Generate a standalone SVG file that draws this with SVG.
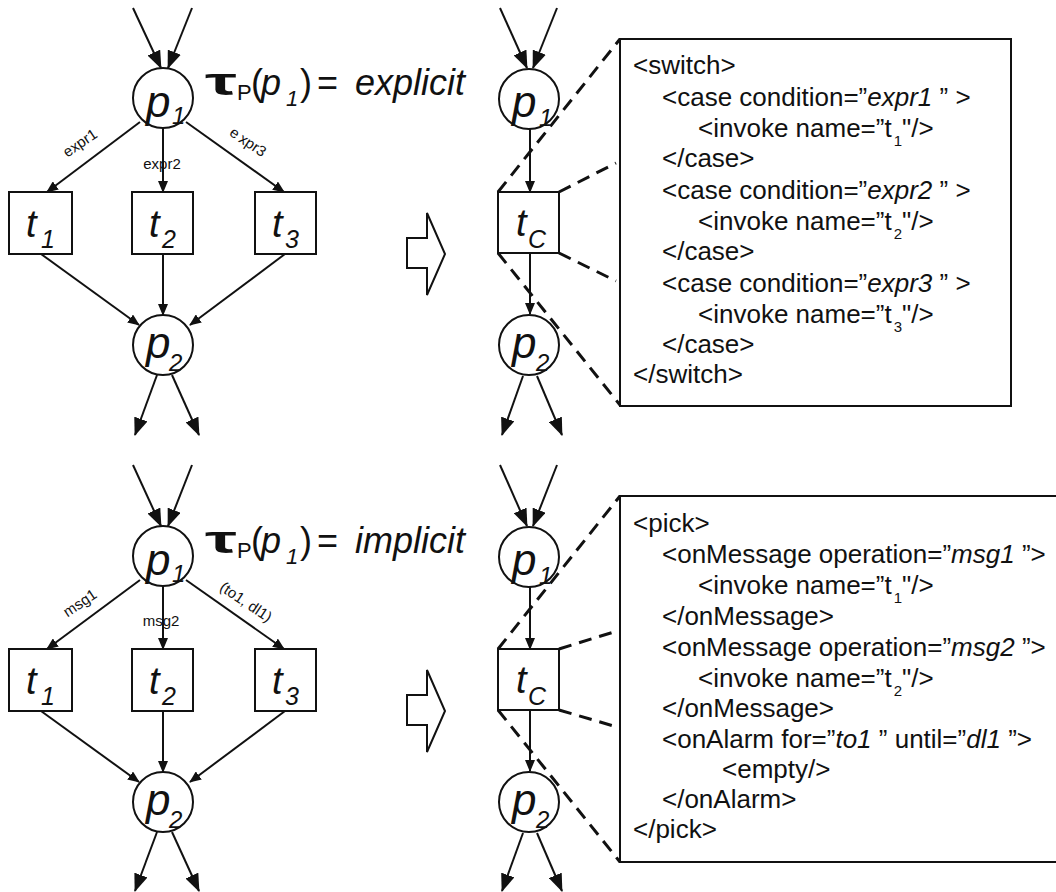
<svg xmlns="http://www.w3.org/2000/svg" width="1056" height="892" viewBox="0 0 1056 892">
<defs>
<style>
.ln{stroke:#111;stroke-width:2;fill:none}
.sm{marker-end:url(#sm)}
.bg{marker-end:url(#big)}
.nd{stroke:#111;stroke-width:2;fill:none}
.box{stroke:#111;stroke-width:2;fill:#fff}
.dash{stroke:#111;stroke-width:3;stroke-dasharray:13 8;fill:none}
.ha{stroke:#111;stroke-width:2;fill:#fff}
text{font-family:"Liberation Sans",Arial,sans-serif;fill:#111}
.it{font-style:italic}
.lbl{font-size:15px}
.x{font-size:26px}
.xs{font-size:15px}
.pl{font-size:44px;font-style:italic}
.ps{font-size:24px;font-style:italic}
.tl{font-size:38px;font-style:italic}
.ts{font-size:25px;font-style:italic}
.f{font-size:36px}
</style>
<marker id="big" markerWidth="18" markerHeight="14" refX="17" refY="7" orient="auto" markerUnits="userSpaceOnUse"><path d="M0,0 L18,7 L0,14 z" fill="#111"/></marker>
<marker id="sm" markerWidth="12" markerHeight="10" refX="11" refY="5" orient="auto" markerUnits="userSpaceOnUse"><path d="M0,0 L12,5 L0,10 z" fill="#111"/></marker>
</defs>
<rect width="1056" height="892" fill="#fff"/>

<!-- XML boxes -->
<g id="switchBox">
<rect x="620" y="39" width="391" height="367" class="box"/>
<text class="x" x="633" y="74">&lt;switch&gt;</text>
<text class="x" x="662" y="106">&lt;case condition=”<tspan class="it">expr1</tspan> ” &gt;</text>
<text class="x" x="698" y="137">&lt;invoke name=”t<tspan class="xs" dx="2" dy="9">1</tspan><tspan dy="-9">"/&gt;</tspan></text>
<text class="x" x="662" y="167">&lt;/case&gt;</text>
<text class="x" x="662" y="199">&lt;case condition=”<tspan class="it">expr2</tspan> ” &gt;</text>
<text class="x" x="698" y="230">&lt;invoke name=”t<tspan class="xs" dx="2" dy="9">2</tspan><tspan dy="-9">"/&gt;</tspan></text>
<text class="x" x="662" y="260">&lt;/case&gt;</text>
<text class="x" x="662" y="292">&lt;case condition=”<tspan class="it">expr3</tspan> ” &gt;</text>
<text class="x" x="698" y="323">&lt;invoke name=”t<tspan class="xs" dx="2" dy="9">3</tspan><tspan dy="-9">"/&gt;</tspan></text>
<text class="x" x="662" y="353">&lt;/case&gt;</text>
<text class="x" x="633" y="383">&lt;/switch&gt;</text>
</g>
<g id="pickBox">
<rect x="620" y="496" width="450" height="366" class="box"/>
<text class="x" x="633" y="532">&lt;pick&gt;</text>
<text class="x" x="662" y="563">&lt;onMessage operation=”<tspan class="it">msg1</tspan> ”&gt;</text>
<text class="x" x="698" y="594">&lt;invoke name=”t<tspan class="xs" dx="2" dy="9">1</tspan><tspan dy="-9">"/&gt;</tspan></text>
<text class="x" x="662" y="625">&lt;/onMessage&gt;</text>
<text class="x" x="662" y="656">&lt;onMessage operation=”<tspan class="it">msg2</tspan> ”&gt;</text>
<text class="x" x="698" y="687">&lt;invoke name=”t<tspan class="xs" dx="2" dy="9">2</tspan><tspan dy="-9">"/&gt;</tspan></text>
<text class="x" x="662" y="717">&lt;/onMessage&gt;</text>
<text class="x" x="662" y="748">&lt;onAlarm for=”<tspan class="it">to1</tspan> ” until=”<tspan class="it">dl1</tspan> ”&gt;</text>
<text class="x" x="722" y="778">&lt;empty/&gt;</text>
<text class="x" x="662" y="808">&lt;/onAlarm&gt;</text>
<text class="x" x="633" y="838">&lt;/pick&gt;</text>
</g>

<!-- connectors -->
<g id="connectors">
<line class="ln bg" x1="133" y1="8" x2="161" y2="68"/>
<line class="ln bg" x1="192" y1="8" x2="168" y2="68"/>
<line class="ln sm" x1="140" y1="122" x2="47" y2="192"/>
<line class="ln sm" x1="163" y1="128" x2="163" y2="192"/>
<line class="ln sm" x1="186" y1="122" x2="284" y2="192"/>
<line class="ln sm" x1="41" y1="254" x2="139" y2="325"/>
<line class="ln sm" x1="163" y1="254" x2="163" y2="315"/>
<line class="ln sm" x1="285" y1="254" x2="190" y2="325"/>
<line class="ln bg" x1="157" y1="375" x2="135" y2="435"/>
<line class="ln bg" x1="172" y1="375" x2="199" y2="435"/>
<line class="ln bg" x1="500" y1="8" x2="527" y2="68"/>
<line class="ln bg" x1="557" y1="8" x2="533" y2="68"/>
<line class="ln sm" x1="530" y1="129" x2="530" y2="192"/>
<line class="ln sm" x1="530" y1="253" x2="530" y2="314"/>
<line class="ln bg" x1="523" y1="376" x2="502" y2="435"/>
<line class="ln bg" x1="537" y1="376" x2="562" y2="435"/>
<line class="dash" x1="498" y1="192" x2="620" y2="39"/>
<line class="dash" x1="559" y1="192" x2="616" y2="163"/>
<line class="dash" x1="559" y1="253" x2="616" y2="281"/>
<line class="dash" x1="498" y1="253" x2="620" y2="405"/>
<line class="ln bg" x1="133" y1="465" x2="161" y2="526"/>
<line class="ln bg" x1="192" y1="465" x2="168" y2="526"/>
<line class="ln sm" x1="140" y1="580" x2="47" y2="649"/>
<line class="ln sm" x1="163" y1="586" x2="163" y2="649"/>
<line class="ln sm" x1="186" y1="580" x2="284" y2="649"/>
<line class="ln sm" x1="41" y1="711" x2="139" y2="782"/>
<line class="ln sm" x1="163" y1="711" x2="163" y2="772"/>
<line class="ln sm" x1="285" y1="711" x2="190" y2="782"/>
<line class="ln bg" x1="157" y1="832" x2="135" y2="891"/>
<line class="ln bg" x1="172" y1="832" x2="199" y2="891"/>
<line class="ln bg" x1="500" y1="465" x2="527" y2="526"/>
<line class="ln bg" x1="557" y1="465" x2="533" y2="526"/>
<line class="ln sm" x1="530" y1="587" x2="530" y2="649"/>
<line class="ln sm" x1="530" y1="710" x2="530" y2="771"/>
<line class="ln bg" x1="523" y1="833" x2="502" y2="891"/>
<line class="ln bg" x1="537" y1="833" x2="562" y2="891"/>
<line class="dash" x1="498" y1="649" x2="620" y2="496"/>
<line class="dash" x1="559" y1="649" x2="617" y2="631"/>
<line class="dash" x1="559" y1="710" x2="617" y2="727"/>
<line class="dash" x1="498" y1="710" x2="620" y2="862"/>
<text class="lbl" text-anchor="middle" transform="translate(80,143) rotate(-34)" y="5">expr1</text>
<text class="lbl" text-anchor="middle" x="162" y="169">expr2</text>
<text class="lbl" text-anchor="middle" transform="translate(248,142) rotate(34)" y="5">e<tspan dx="3">xpr3</tspan></text>
<text class="lbl" text-anchor="middle" transform="translate(80,603) rotate(-34)" y="5">msg1</text>
<text class="lbl" text-anchor="middle" x="161" y="626">msg2</text>
<text class="lbl" text-anchor="middle" transform="translate(246,602) rotate(34)" y="5">(to1, dl1)</text>
</g>

<!-- formulas -->
<g id="formulaTop">
<text x="205" y="95" font-size="38" font-weight="bold" textLength="32" lengthAdjust="spacingAndGlyphs">τ</text>
<text x="237" y="100" font-size="22">P</text>
<text class="f" x="251" y="95">(</text>
<text class="f it" x="261" y="95">p</text>
<text class="it" font-size="22" x="286" y="106">1</text>
<text class="f" x="300" y="95">)</text>
<text class="f" x="317" y="95">=</text>
<text class="f it" x="355" y="95">explicit</text>
</g>
<g id="formulaBottom">
<text x="205" y="553" font-size="38" font-weight="bold" textLength="32" lengthAdjust="spacingAndGlyphs">τ</text>
<text x="237" y="558" font-size="22">P</text>
<text class="f" x="251" y="553">(</text>
<text class="f it" x="261" y="553">p</text>
<text class="it" font-size="22" x="286" y="564">1</text>
<text class="f" x="300" y="553">)</text>
<text class="f" x="317" y="553">=</text>
<text class="f it" x="355" y="553">implicit</text>
</g>

<!-- transformation arrows -->
<g id="arrowTop"><polygon class="ha" points="407,238 427,238 427,213 445,254 427,295 427,268 407,268"/></g>
<g id="arrowBottom"><polygon class="ha" points="407,695 427,695 427,670 445,711 427,752 427,725 407,725"/></g>

<!-- top-left nodes -->
<g id="A_p1"><circle cx="163" cy="98" r="30" class="nd"/><text class="pl" x="146" y="117">p</text><text class="ps" x="172" y="124">1</text></g>
<g id="A_t1"><rect x="9" y="192" width="63" height="62" class="nd"/><text class="tl" x="26" y="237">t</text><text class="ts" x="41" y="248">1</text></g>
<g id="A_t2"><rect x="132" y="192" width="61" height="62" class="nd"/><text class="tl" x="149" y="237">t</text><text class="ts" x="162" y="248">2</text></g>
<g id="A_t3"><rect x="255" y="192" width="61" height="62" class="nd"/><text class="tl" x="272" y="237">t</text><text class="ts" x="285" y="248">3</text></g>
<g id="A_p2"><circle cx="163" cy="345" r="30" class="nd"/><text class="pl" x="146" y="358">p</text><text class="ps" x="169" y="371">2</text></g>

<!-- top-right nodes -->
<g id="B_p1"><circle cx="529" cy="99" r="30" class="nd"/><text class="pl" x="512" y="117">p</text><text class="ps" x="539" y="126">1</text></g>
<g id="B_tC"><rect x="498" y="192" width="61" height="61" class="nd"/><text class="tl" x="516" y="236">t</text><text class="ts" x="528" y="248">C</text></g>
<g id="B_p2"><circle cx="529" cy="345" r="30" class="nd"/><text class="pl" x="512" y="358">p</text><text class="ps" x="536" y="371">2</text></g>

<!-- bottom-left nodes -->
<g id="C_p1"><circle cx="163" cy="556" r="30" class="nd"/><text class="pl" x="146" y="575">p</text><text class="ps" x="172" y="582">1</text></g>
<g id="C_t1"><rect x="9" y="649" width="63" height="62" class="nd"/><text class="tl" x="26" y="694">t</text><text class="ts" x="41" y="705">1</text></g>
<g id="C_t2"><rect x="132" y="649" width="61" height="62" class="nd"/><text class="tl" x="149" y="694">t</text><text class="ts" x="162" y="705">2</text></g>
<g id="C_t3"><rect x="255" y="649" width="61" height="62" class="nd"/><text class="tl" x="272" y="694">t</text><text class="ts" x="285" y="705">3</text></g>
<g id="C_p2"><circle cx="163" cy="802" r="30" class="nd"/><text class="pl" x="146" y="815">p</text><text class="ps" x="169" y="828">2</text></g>

<!-- bottom-right nodes -->
<g id="D_p1"><circle cx="529" cy="557" r="30" class="nd"/><text class="pl" x="512" y="575">p</text><text class="ps" x="539" y="584">1</text></g>
<g id="D_tC"><rect x="498" y="649" width="61" height="61" class="nd"/><text class="tl" x="516" y="693">t</text><text class="ts" x="528" y="705">C</text></g>
<g id="D_p2"><circle cx="529" cy="802" r="30" class="nd"/><text class="pl" x="512" y="815">p</text><text class="ps" x="536" y="828">2</text></g>
</svg>
